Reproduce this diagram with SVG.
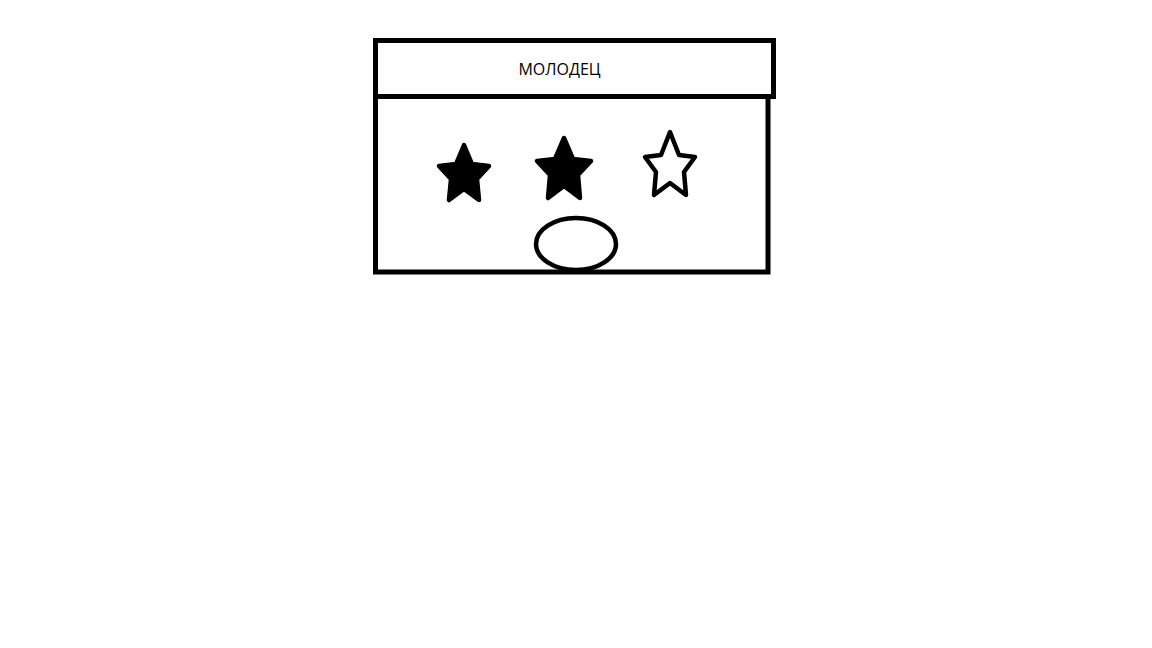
<svg xmlns="http://www.w3.org/2000/svg" width="1152" height="648" viewBox="0 0 1152 648">
<style>
.box{fill:none;stroke:#000;stroke-width:5}
.star{stroke:#000;stroke-width:4.5;stroke-linejoin:round}
.lbl{font-family:"Open Sans","Noto Sans",sans-serif;font-size:16px;fill:#000}
</style>
<rect width="1152" height="648" fill="#fff"/>
<g id="header">
<rect class="box" x="375.5" y="40.5" width="398" height="56"/>
<text class="lbl" x="559.5" y="75" text-anchor="middle">МОЛОДЕЦ</text>
</g>
<g id="body">
<rect class="box" x="375.5" y="96.5" width="392.5" height="175.5"/>
</g>
<g id="star1">
<polygon class="star" fill="#000" points="464,145 472,164 489,166 477,179 479,200 464,189 449,200 451,179 439,166 456,164"/>
</g>
<g id="star2">
<polygon class="star" fill="#000" points="564,138 573,159 591,161 578,175 580,198 564,186 548,198 550,175 537,161 555,159"/>
</g>
<g id="star3">
<polygon class="star" fill="#fff" points="670,132 679,155 695,157 684,172 686,195 670,183 654,195 656,172 645,157 661,155"/>
</g>
<g id="oval">
<ellipse cx="576" cy="244" rx="40" ry="26" fill="#fff" stroke="#000" stroke-width="4.5"/>
</g>
</svg>
